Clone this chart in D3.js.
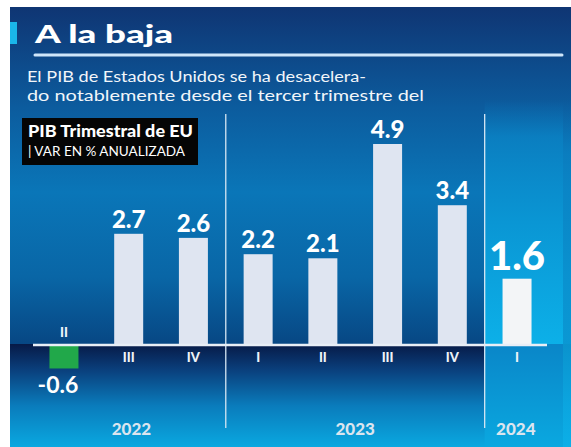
<!DOCTYPE html>
<html>
<head>
<meta charset="utf-8">
<script src="https://cdn.jsdelivr.net/npm/d3@7"></script>
<style>
  html, body { margin: 0; padding: 0; background: #fff; }
  svg { display: block; }
</style>
</head>
<body>
<svg id="chart"></svg>
<script>
// data
const quarters = ["II", "III", "IV", "I", "II", "III", "IV", "I"];
const years = ["2022", "2022", "2022", "2023", "2023", "2023", "2023", "2024"];
const values = [-0.6, 2.7, 2.6, 2.2, 2.1, 4.9, 3.4, 1.6];
const yearLabels = ["2022", "2023", "2024"];

const title = "A la baja";
const subtitle = ["El PIB de Estados Unidos se ha desacelera-",
                  "do notablemente desde el tercer trimestre del"];
const boxTitle = "PIB Trimestral de EU";
const boxSub = "| VAR EN % ANUALIZADA";

const W = 571, H = 447;
const font = "Lato, 'Open Sans', sans-serif";

const svg = d3.select("#chart").attr("width", W).attr("height", H);

const keys = values.map((d, i) => years[i] + "-" + quarters[i]);
const data = values.map((v, i) => ({ key: keys[i], q: quarters[i], year: years[i], value: v }));

const x = d3.scaleBand()
            .domain(keys)
            .range([31.6, 549.4])
            .paddingInner(0.552)
            .paddingOuter(0.276);

const y = d3.scaleLinear()
            .domain([0, 4.9])
            .range([344, 144]);

const y0 = y(0);

// gradients
const defs = svg.append("defs");
function grad(id, stops) {
  const g = defs.append("linearGradient").attr("id", id)
    .attr("x1", 0).attr("y1", 0).attr("x2", 0).attr("y2", 1);
  stops.forEach(s => g.append("stop").attr("offset", s[0]).attr("stop-color", s[1])
                       .attr("stop-opacity", s[2] === undefined ? 1 : s[2]));
}
grad("gTop", [[0, "#0f3573"], [0.3, "#0c5c9e"], [0.55, "#0a76b8"], [0.8, "#0966a6"], [1, "#074784"]]);
grad("gBot", [[0, "#071a47"], [0.25, "#0a3f7c"], [0.6, "#0a7cbc"], [1, "#0aa8e0"]]);
grad("gColTop", [[0, "#0a7cc0", 0], [0.15, "#0a84c6", 0.8], [0.5, "#0a96d4"], [1, "#0cb0e8"]]);
grad("gColBot", [[0, "#0a86c8"], [1, "#0aa8e0"]]);

// panel
svg.append("rect").attr("x", 10).attr("y", 7).attr("width", W - 10).attr("height", y0 - 7)
   .attr("fill", "url(#gTop)");
svg.append("rect").attr("x", 10).attr("y", y0).attr("width", W - 10).attr("height", H - y0)
   .attr("fill", "url(#gBot)");

// 2024 column highlight
const sep1 = (x(keys[2]) + x.bandwidth() + x(keys[3])) / 2;
const sep2 = (x(keys[6]) + x.bandwidth() + x(keys[7])) / 2;
svg.append("rect").attr("x", sep2).attr("y", 100).attr("width", 563 - sep2).attr("height", y0 - 100)
   .attr("fill", "url(#gColTop)");
svg.append("rect").attr("x", sep2).attr("y", y0).attr("width", 563 - sep2).attr("height", H - y0)
   .attr("fill", "url(#gColBot)");
svg.append("rect").attr("x", 563).attr("y", 100).attr("width", W - 563).attr("height", H - 100)
   .attr("fill", "url(#gColTop)").attr("opacity", 0.9);

// header
svg.append("rect").attr("x", 10).attr("y", 22).attr("width", 7).attr("height", 22).attr("fill", "#1ab6ea");
svg.append("text").attr("x", 35).attr("y", 43)
   .attr("font-family", font).attr("font-weight", 900).attr("font-size", 25)
   .attr("fill", "#fff").attr("textLength", 138).attr("lengthAdjust", "spacingAndGlyphs")
   .text(title);
svg.append("line").attr("x1", 35).attr("x2", 562).attr("y1", 55).attr("y2", 55)
   .attr("stroke", "#cfe6fa").attr("stroke-width", 3).attr("stroke-linecap", "round");

const subLens = [339, 397];
svg.selectAll(".sub").data(subtitle).enter().append("text")
   .attr("class", "sub")
   .attr("x", 27).attr("y", (d, i) => 82 + i * 19)
   .attr("font-family", font).attr("font-size", 15.5).attr("fill", "#f2f6fa")
   .attr("textLength", (d, i) => subLens[i]).attr("lengthAdjust", "spacingAndGlyphs")
   .text(d => d);

// black label box
svg.append("rect").attr("x", 22).attr("y", 118).attr("width", 176).attr("height", 47).attr("fill", "#050505");
svg.append("text").attr("x", 28).attr("y", 137)
   .attr("font-family", font).attr("font-weight", 900).attr("font-size", 17.5).attr("fill", "#fff")
   .attr("textLength", 165).attr("lengthAdjust", "spacingAndGlyphs")
   .text(boxTitle);
svg.append("text").attr("x", 28).attr("y", 156)
   .attr("font-family", font).attr("font-size", 13.5).attr("fill", "#fff")
   .attr("textLength", 157).attr("lengthAdjust", "spacingAndGlyphs")
   .text(boxSub);

// year separators
[sep1, sep2].forEach(sx => {
  svg.append("line").attr("x1", sx).attr("x2", sx).attr("y1", 114).attr("y2", 428)
     .attr("stroke", "#d5e6f3").attr("stroke-width", 1.3);
});

// bars
svg.selectAll(".bar").data(data).enter().append("rect")
   .attr("class", "bar")
   .attr("x", d => x(d.key))
   .attr("y", d => y(Math.max(0, d.value)))
   .attr("width", x.bandwidth())
   .attr("height", d => Math.abs(y(d.value) - y0))
   .attr("fill", d => d.value < 0 ? "#21a84a" : (d.year === "2024" ? "#f3f5f7" : "#dfe5f1"));

// zero line
svg.append("line").attr("x1", 33).attr("x2", 547).attr("y1", y0 + 1).attr("y2", y0 + 1)
   .attr("stroke", "#e8eef6").attr("stroke-width", 2.5);

// value labels
svg.selectAll(".val").data(data).enter().append("text")
   .attr("class", "val")
   .attr("x", d => x(d.key) + x.bandwidth() / 2 + (d.value < 0 ? -6 : 0))
   .attr("y", d => d.value < 0 ? y(d.value) + 25 : y(d.value) - (d.year === "2024" ? 9 : 6))
   .attr("text-anchor", "middle")
   .attr("font-family", font)
   .attr("font-weight", d => d.value < 0 ? 700 : 900)
   .attr("font-size", d => d.year === "2024" ? 40 : (d.value < 0 ? 23 : 24))
   .attr("fill", "#fff")
   .text(d => d3.format(".1f")(d.value).replace("−", "-"));

// quarter labels
svg.selectAll(".q").data(data).enter().append("text")
   .attr("class", "q")
   .attr("x", d => x(d.key) + x.bandwidth() / 2)
   .attr("y", d => d.value < 0 ? y0 - 7 : y0 + 18)
   .attr("text-anchor", "middle")
   .attr("font-family", font).attr("font-weight", 900).attr("font-size", 13)
   .attr("fill", "#eef3f8")
   .text(d => d.q);

// year labels
const groupEdges = { "2022": [33, sep1], "2023": [sep1, sep2], "2024": [sep2, 547] };
svg.selectAll(".yr").data(yearLabels).enter().append("text")
   .attr("class", "yr")
   .attr("x", d => (groupEdges[d][0] + groupEdges[d][1]) / 2 + (d === "2022" ? 2 : 0))
   .attr("y", 435)
   .attr("text-anchor", "middle")
   .attr("font-family", font).attr("font-weight", 900).attr("font-size", 17)
   .attr("fill", "#dbe5ef")
   .text(d => d);
</script>
</body>
</html>
